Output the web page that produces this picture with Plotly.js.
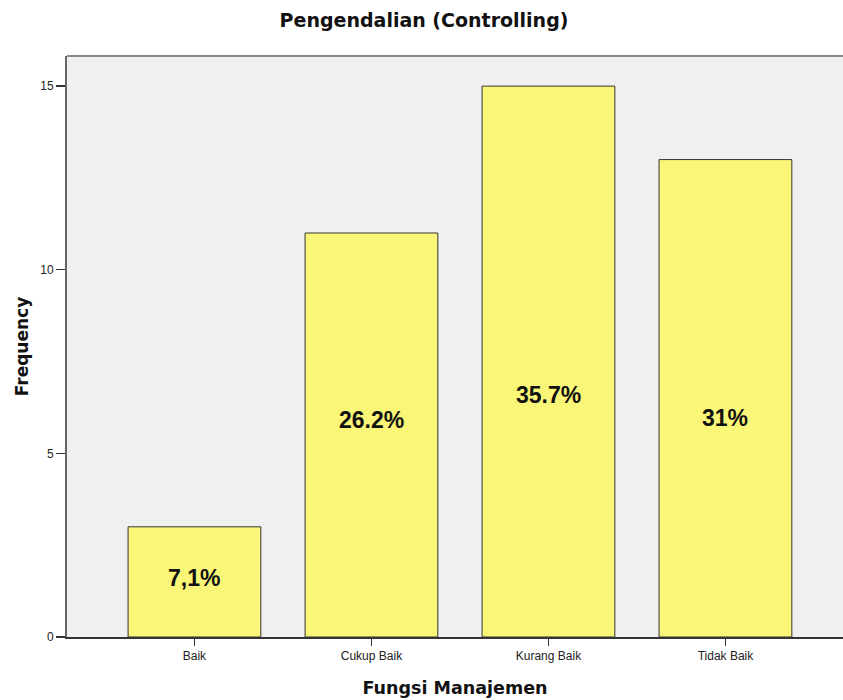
<!DOCTYPE html>
<html>
<head>
<meta charset="utf-8">
<script src="https://cdn.plot.ly/plotly-3.0.1.min.js"></script>
<style>html,body{margin:0;padding:0;background:#fff;}#chart{width:843px;height:700px;}</style>
</head>
<body>
<div id="chart"></div>
<script>
const categories = ["Baik", "Cukup Baik", "Kurang Baik", "Tidak Baik"];
const frequencies = [3, 11, 15, 13];
const percentLabels = ["7,1%", "26.2%", "35.7%", "31%"];
const labelHeights = [1.61, 5.91, 6.59, 5.96];
const yTicks = [0, 5, 10, 15];

const titleFont = "DejaVu Sans, Verdana, sans-serif";

const trace = {
  type: "bar",
  x: categories,
  y: frequencies,
  width: 0.75,
  marker: {color: "#faf677", line: {color: "#333333", width: 1}},
  hoverinfo: "x+y"
};

const annotations = categories.map((c, i) => ({
  x: c, y: labelHeights[i], xref: "x", yref: "y",
  text: "<b>" + percentLabels[i] + "</b>", showarrow: false,
  font: {family: "Liberation Sans, Arial, sans-serif", size: 23, color: "#111"},
  xanchor: "center", yanchor: "middle"
}));

const layout = {
  width: 843, height: 700,
  margin: {l: 67, r: 0, t: 56, b: 63},
  paper_bgcolor: "#ffffff",
  plot_bgcolor: "#f0f0f0",
  font: {family: "Liberation Sans, Arial, sans-serif", color: "#222"},
  title: {text: "<b>Pengendalian (Controlling)</b>", x: 0.503, xanchor: "center", y: 0.971, yanchor: "middle",
          font: {family: titleFont, size: 19, color: "#111"}},
  xaxis: {
    range: [-0.72, 3.664], showgrid: false, zeroline: false,
    showline: true, linecolor: "#333", linewidth: 1.5,
    ticks: "outside", ticklen: 7, tickcolor: "#333", tickwidth: 1.5,
    tickfont: {size: 12, color: "#222"},
    title: {text: "<b>Fungsi Manajemen</b>", font: {family: titleFont, size: 17.5, color: "#111"}, standoff: 20}
  },
  yaxis: {
    range: [0, 15.82], tickvals: yTicks, ticktext: yTicks.map(String),
    showgrid: false, zeroline: false,
    showline: true, linecolor: "#666", linewidth: 2,
    ticks: "outside", ticklen: 9, tickcolor: "#333", tickwidth: 1.5,
    tickfont: {size: 12, color: "#222"},
    title: {text: "<b>Frequency</b>", font: {family: titleFont, size: 17, color: "#111"}, standoff: 7}
  },
  shapes: [{type: "line", xref: "paper", yref: "paper", x0: 0, x1: 1, y0: 1, y1: 1,
            line: {color: "#888", width: 2}}],
  annotations: annotations,
  showlegend: false,
  bargap: 0.25
};

Plotly.newPlot("chart", [trace], layout, {displayModeBar: false, staticPlot: true});
</script>
</body>
</html>
